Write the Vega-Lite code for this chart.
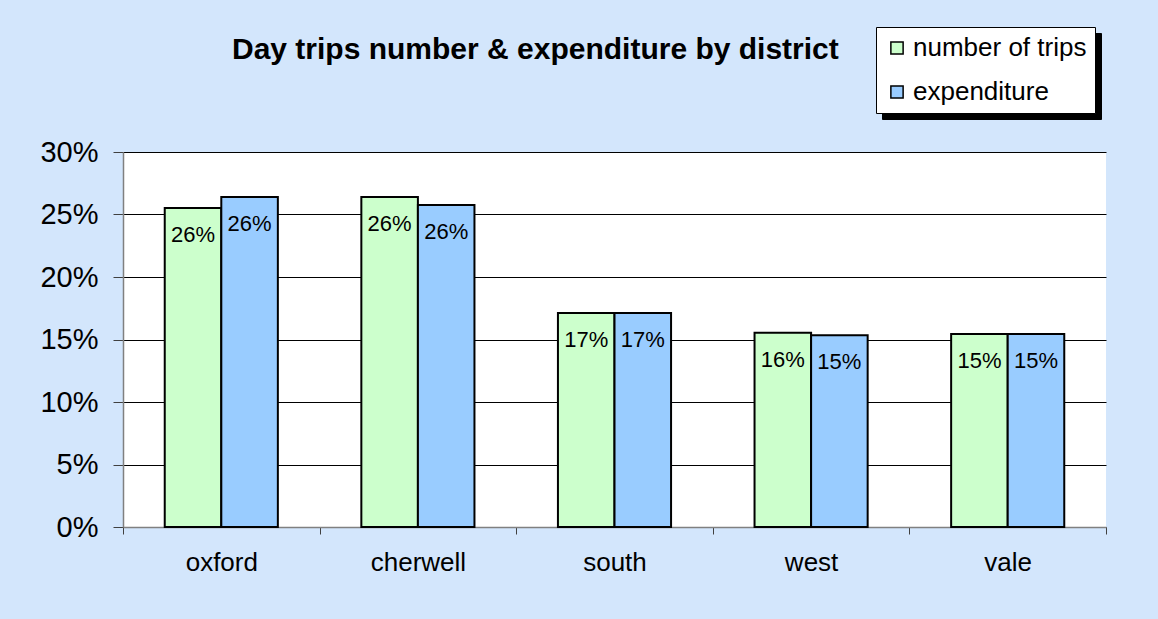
{
  "$schema": "https://vega.github.io/schema/vega-lite/v6.json",
  "width": 983,
  "height": 375,
  "autosize": {"type": "none"},
  "padding": {"left": 123, "top": 152, "right": 52, "bottom": 92},
  "background": "#d3e6fc",
  "config": {
    "font": "Liberation Sans",
    "view": {"fill": "white", "stroke": null}
  },
  "title": {
    "text": "Day trips number & expenditure by district",
    "anchor": "start",
    "frame": "group",
    "dx": 109,
    "offset": -62,
    "baseline": "alphabetic",
    "fontSize": 30,
    "fontWeight": "bold",
    "color": "black"
  },
  "data": {
    "values": [
      {"district": "oxford", "series": "number of trips", "key": "number of trips ", "value": 0.2552},
      {"district": "oxford", "series": "expenditure", "key": "expenditure ", "value": 0.2640},
      {"district": "cherwell", "series": "number of trips", "key": "number of trips ", "value": 0.2640},
      {"district": "cherwell", "series": "expenditure", "key": "expenditure ", "value": 0.2576},
      {"district": "south", "series": "number of trips", "key": "number of trips ", "value": 0.1712},
      {"district": "south", "series": "expenditure", "key": "expenditure ", "value": 0.1712},
      {"district": "west", "series": "number of trips", "key": "number of trips ", "value": 0.1555},
      {"district": "west", "series": "expenditure", "key": "expenditure ", "value": 0.1535},
      {"district": "vale", "series": "number of trips", "key": "number of trips ", "value": 0.1545},
      {"district": "vale", "series": "expenditure", "key": "expenditure ", "value": 0.1545}
    ]
  },
  "encoding": {
    "x": {
      "field": "district",
      "type": "nominal",
      "sort": ["oxford", "cherwell", "south", "west", "vale"],
      "scale": {"paddingInner": 0, "paddingOuter": 0},
      "axis": {
        "title": null,
        "labelAngle": 0,
        "labelFontSize": 26,
        "labelColor": "black",
        "labelPadding": 15,
        "tickBand": "extent",
        "tickSize": 7,
        "tickColor": "#404040",
        "domainColor": "#808080",
        "domainWidth": 1.5,
        "grid": false
      }
    },
    "xOffset": {
      "field": "series",
      "sort": ["number of trips", "expenditure"],
      "scale": {"paddingInner": 0, "paddingOuter": 0.738}
    },
    "y": {
      "field": "value",
      "type": "quantitative",
      "scale": {"domain": [0, 0.3], "nice": false},
      "axis": {
        "title": null,
        "values": [0, 0.05, 0.1, 0.15, 0.2, 0.25, 0.3],
        "format": ".0%",
        "labelFontSize": 29,
        "labelColor": "black",
        "labelPadding": 15,
        "tickSize": 10,
        "tickColor": "#404040",
        "domainColor": "#808080",
        "domainWidth": 1.5,
        "grid": true,
        "gridColor": "black",
        "gridWidth": 1
      }
    }
  },
  "layer": [
    {
      "mark": {"type": "bar", "stroke": "black", "strokeWidth": 2},
      "encoding": {
        "color": {
          "field": "series",
          "type": "nominal",
          "scale": {"domain": ["number of trips", "expenditure"], "range": ["#ccffcc", "#99ccff"]},
          "legend": {
            "title": null,
            "orient": "none",
            "legendX": 753,
            "legendY": -125,
            "zindex": 2,
            "fillColor": "white",
            "strokeColor": "black",
            "padding": 8,
            "rowPadding": 18,
            "symbolType": "square",
            "symbolSize": 150,
            "symbolStrokeColor": "black",
            "symbolStrokeWidth": 1.5,
            "labelFontSize": 26,
            "labelLimit": 400,
            "labelColor": "black",
            "labelOffset": 3
          }
        }
      }
    },
    {
      "mark": {"type": "text", "baseline": "alphabetic", "dy": 34, "fontSize": 22, "color": "black"},
      "encoding": {
        "text": {"field": "value", "type": "quantitative", "format": ".0%"},
        "opacity": {
          "field": "key",
          "type": "nominal",
          "scale": {"domain": ["number of trips ", "expenditure "], "range": [1, 1]},
          "legend": {
            "title": null,
            "orient": "none",
            "legendX": 759,
            "legendY": -119,
            "zindex": 1,
            "fillColor": "black",
            "strokeColor": "black",
            "padding": 8,
            "rowPadding": 18,
            "symbolType": "square",
            "symbolSize": 150,
            "symbolFillColor": "black",
            "symbolStrokeColor": "black",
            "labelFontSize": 26,
            "labelLimit": 400,
            "labelExpr": "trim(datum.label)",
            "labelColor": "black",
            "labelOpacity": 0,
            "labelOffset": 3
          }
        }
      }
    }
  ]
}
